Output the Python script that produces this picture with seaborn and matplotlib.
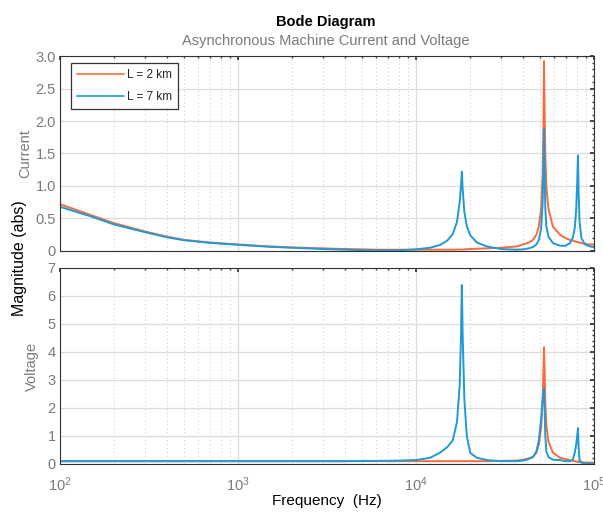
import numpy as np
import pandas as pd
import matplotlib
matplotlib.use("Agg")
import matplotlib.pyplot as plt
from matplotlib.ticker import LogLocator, NullFormatter, MultipleLocator, FuncFormatter
from matplotlib.lines import Line2D
import seaborn as sns

# ---------------- data ----------------
freq = [100, 150, 200, 300, 400, 500, 700, 1000, 1500, 2000, 3000, 4000, 5000,
        6000, 8000, 10000, 12000, 13600, 15000, 16100, 17000, 17600, 17900, 18100,
        18300, 18700, 19300, 20200, 22000, 25000, 30000, 36800, 40000, 43000,
        45400, 47500, 49000, 50500, 51500, 52000, 52400, 52800, 53300, 54000,
        55500, 58900, 64500, 69000, 73300, 76000, 78000, 79500, 80500, 81300,
        82000, 83000, 85000, 89000, 95000, 100000]

current_2km = [0.72, 0.55, 0.43, 0.30, 0.22, 0.17, 0.13, 0.10, 0.07, 0.055, 0.04, 0.03, 0.025,
               0.02, 0.02, 0.02, 0.02, 0.02, 0.02, 0.02, 0.022, 0.022, 0.022, 0.022,
               0.022, 0.024, 0.026, 0.03, 0.035, 0.04, 0.05, 0.07, 0.10, 0.13,
               0.17, 0.25, 0.38, 0.65, 1.20, 1.90, 2.92, 2.20, 1.50, 1.00,
               0.65, 0.37, 0.25, 0.20, 0.17, 0.16, 0.15, 0.14, 0.14, 0.135,
               0.13, 0.13, 0.12, 0.11, 0.10, 0.10]

current_7km = [0.68, 0.53, 0.41, 0.29, 0.21, 0.165, 0.125, 0.095, 0.065, 0.05, 0.03, 0.02, 0.012,
               0.008, 0.01, 0.025, 0.05, 0.09, 0.16, 0.26, 0.45, 0.75, 1.00, 1.22,
               0.95, 0.60, 0.38, 0.24, 0.13, 0.07, 0.03, 0.02, 0.025, 0.04,
               0.06, 0.10, 0.17, 0.35, 0.75, 1.25, 1.88, 1.25, 0.65, 0.38,
               0.22, 0.12, 0.08, 0.08, 0.12, 0.20, 0.35, 0.65, 1.05, 1.47,
               0.90, 0.45, 0.20, 0.10, 0.07, 0.06]

voltage_2km = [0.10, 0.10, 0.10, 0.10, 0.10, 0.10, 0.10, 0.10, 0.10, 0.10, 0.10, 0.10, 0.10,
               0.10, 0.10, 0.10, 0.10, 0.10, 0.10, 0.10, 0.10, 0.10, 0.10, 0.10,
               0.10, 0.10, 0.10, 0.10, 0.10, 0.10, 0.11, 0.12, 0.15, 0.20,
               0.25, 0.40, 0.70, 1.30, 2.30, 3.30, 4.17, 3.40, 2.20, 1.40,
               0.80, 0.40, 0.22, 0.18, 0.14, 0.12, 0.10, 0.09, 0.08, 0.08,
               0.07, 0.07, 0.06, 0.05, 0.05, 0.04]

voltage_7km = [0.10, 0.10, 0.10, 0.10, 0.10, 0.10, 0.10, 0.10, 0.10, 0.10, 0.10, 0.10, 0.11,
               0.11, 0.12, 0.14, 0.22, 0.40, 0.60, 0.85, 1.50, 2.80, 4.50, 6.39,
               4.60, 2.30, 1.00, 0.39, 0.22, 0.14, 0.10, 0.10, 0.12, 0.18,
               0.25, 0.45, 0.85, 1.60, 2.30, 2.60, 2.70, 2.00, 1.00, 0.45,
               0.25, 0.15, 0.14, 0.10, 0.10, 0.15, 0.40, 0.70, 1.00, 1.28,
               0.60, 0.14, 0.05, 0.02, 0.01, 0.0]

labels = ["L = 2 km", "L = 7 km"]
colors = ["#F96B3C", "#1E9AD6"]
title = "Bode Diagram"
subtitle = "Asynchronous Machine Current and Voltage"

# ---------------- style ----------------
sns.set_theme(style="white")
plt.rcParams["font.family"] = ["Liberation Sans", "DejaVu Sans"]
plt.rcParams["mathtext.fontset"] = "custom"
plt.rcParams["mathtext.rm"] = "Liberation Sans"
plt.rcParams["mathtext.it"] = "Liberation Sans"

df_cur = pd.DataFrame({"freq": freq * 2,
                       "value": current_2km + current_7km,
                       "series": [labels[0]] * len(freq) + [labels[1]] * len(freq)})
df_vol = pd.DataFrame({"freq": freq * 2,
                       "value": voltage_2km + voltage_7km,
                       "series": [labels[0]] * len(freq) + [labels[1]] * len(freq)})

fig = plt.figure(figsize=(6.03, 5.12), dpi=100)
ax1 = fig.add_axes([0.0995, 0.5098, 0.8855, 0.3808])
ax2 = fig.add_axes([0.0995, 0.0938, 0.8855, 0.3828])

tick_col = "#7a7a7a"
spine_col = "#333333"


def fmt_cur(v, pos):
    return "0" if abs(v) < 1e-9 else f"{v:.1f}"


def fmt_vol(v, pos):
    return f"{v:.0f}"


for ax, df, ylim, step, ylab, fmt, lx in [(ax1, df_cur, 3.0, 0.5, "Current", fmt_cur, -0.052),
                                           (ax2, df_vol, 7.0, 1.0, "Voltage", fmt_vol, -0.040)]:
    sns.lineplot(data=df, x="freq", y="value", hue="series", palette=colors,
                 hue_order=labels, ax=ax, linewidth=1.4, legend=False, estimator=None)
    ax.set_xscale("log")
    ax.set_xlim(100, 100000)
    ax.set_ylim(0, ylim)
    ax.yaxis.set_major_locator(MultipleLocator(step))
    ax.yaxis.set_major_formatter(FuncFormatter(fmt))
    ax.yaxis.set_minor_locator(MultipleLocator(step / 5))
    ax.xaxis.set_major_locator(LogLocator(base=10, numticks=10))
    ax.xaxis.set_minor_locator(LogLocator(base=10, subs=np.arange(2, 10), numticks=20))
    ax.xaxis.set_minor_formatter(NullFormatter())
    ax.grid(True, which="major", color="#dcdcdc", linewidth=0.9, linestyle="-")
    ax.grid(True, which="minor", axis="x", color="#c8c8c8", linewidth=0.7, linestyle=(0, (1, 3)))
    ax.set_axisbelow(True)
    for s in ax.spines.values():
        s.set_color(spine_col)
        s.set_linewidth(0.8)
    ax.tick_params(which="both", direction="in", top=True, right=True,
                   colors=spine_col, labelcolor=tick_col, labelsize=10.5)
    ax.tick_params(which="major", length=3)
    ax.tick_params(which="minor", length=1.6)
    ax.tick_params(axis="y", pad=3)
    ax.tick_params(axis="x", pad=8)
    ax.set_xlabel("")
    ax.set_ylabel(ylab, color=tick_col, fontsize=10.5)
    ax.yaxis.set_label_coords(lx, 0.5)

ax1.tick_params(axis="x", labelbottom=False)
ax2.set_xlabel("Frequency  (Hz)", fontsize=11, color="black", labelpad=0)

# legend
handles = [Line2D([0], [0], color=colors[0], lw=1.2), Line2D([0], [0], color=colors[1], lw=1.2)]
leg = ax1.legend(handles, labels, loc="upper left", bbox_to_anchor=(0.021, 0.962),
                 frameon=True, fancybox=False, edgecolor="black", fontsize=8.5,
                 handlelength=4.0, handletextpad=0.2, borderpad=0.5, labelspacing=0.8,
                 borderaxespad=0.0)
leg.get_frame().set_linewidth(0.9)

fig.text(0.5405, 0.958, title, ha="center", va="center", fontsize=10.5, fontweight="bold", color="black")
fig.text(0.5405, 0.920, subtitle, ha="center", va="center", fontsize=10.5, color=tick_col)
fig.text(0.032, 0.495, "Magnitude (abs)", rotation=90, ha="center", va="center", fontsize=11.5, color="black")

fig.savefig("out.png", dpi=100)
